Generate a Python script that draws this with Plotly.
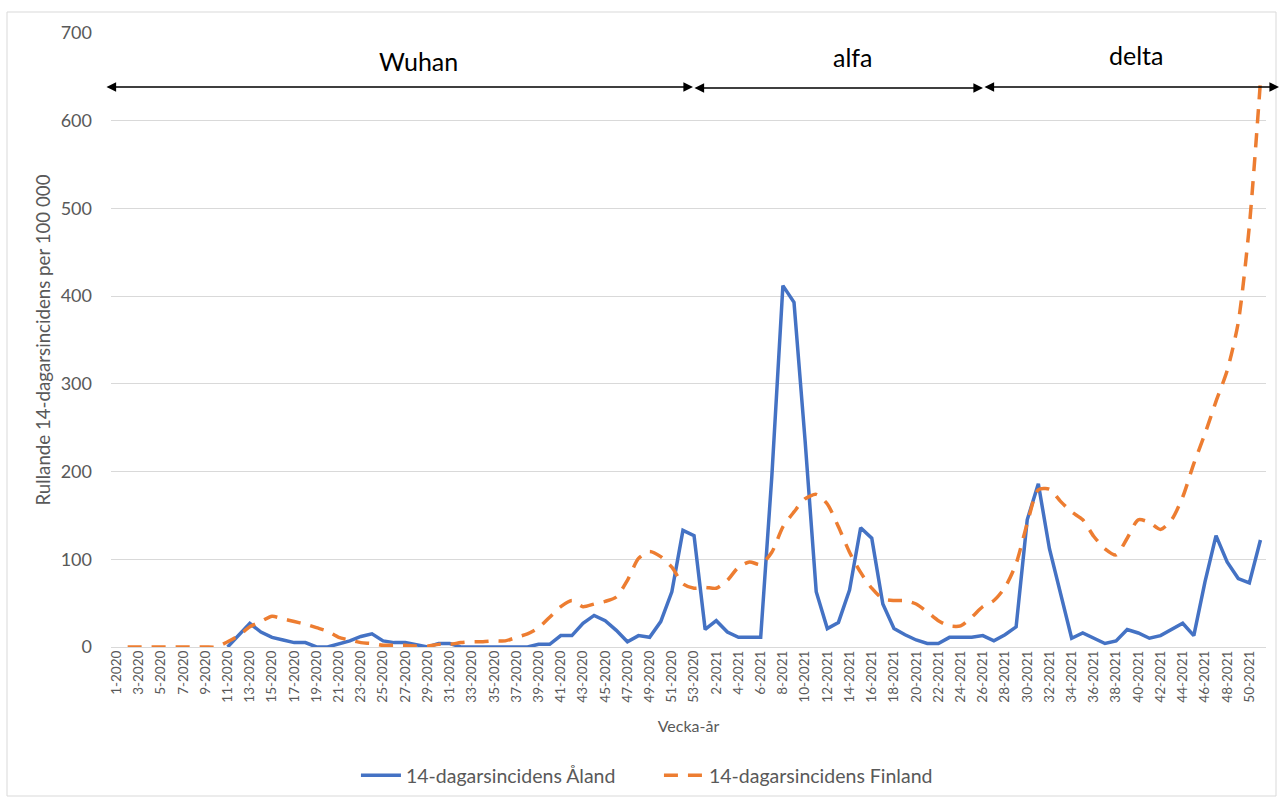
import plotly.graph_objects as go

weeks_2020 = [f"{w}-2020" for w in range(1, 54)]
weeks_2021 = [f"{w}-2021" for w in range(1, 52)]
categories = weeks_2020 + weeks_2021

aland_2020 = [None, None, None, None, None, None, None, None, None, None,
              0, 14, 27, 17, 11, 8, 5, 5, 0, 0,
              3, 7, 12, 15, 7, 5, 5, 2, 0, 4,
              4, 0, 0, 0, 0, 0, 0, 0, 3, 3,
              13, 13, 27, 36, 30, 19, 6, 13, 11, 29,
              63, 133, 127]
aland_2021 = [20, 30, 17, 11, 11, 11, 194, 412, 393, 235,
              63, 21, 28, 65, 136, 124, 49, 21, 14, 8,
              4, 4, 11, 11, 11, 13, 7, 14, 23, 145,
              186, 112, 59, 10, 16, 10, 4, 7, 20, 16,
              10, 13, 20, 27, 13, 74, 127, 97, 78, 73,
              122]

finland_2020 = [None, 0, 0, 0, 0, 0, 0, 0, 0, 0,
                6, 13, 23, 29, 35, 32, 29, 26, 22, 18,
                11, 8, 5, 4, 2, 2, 2, 1, 1, 3,
                3, 5, 6, 6, 7, 7, 11, 15, 22, 34,
                46, 53, 46, 49, 52, 57, 76, 101, 109, 103,
                91, 72, 67]
finland_2021 = [68, 67, 76, 91, 97, 94, 108, 137, 154, 169,
                174, 163, 137, 108, 85, 67, 55, 53, 53, 49,
                40, 30, 24, 24, 34, 46, 53, 68, 95, 141,
                179, 180, 166, 154, 145, 126, 112, 105, 124, 145,
                142, 134, 145, 171, 209, 243, 280, 315, 370, 480,
                645]

aland = aland_2020 + aland_2021
finland = finland_2020 + finland_2021

series_names = ["14-dagarsincidens Åland", "14-dagarsincidens Finland"]
phase_labels = ["Wuhan", "alfa", "delta"]

BLUE = "#4472C4"
ORANGE = "#ED7D31"
GRAY_TXT = "#595959"
GRID = "#D9D9D9"
FONT = "Lato, Carlito, Calibri, sans-serif"

W, H = 1282, 798
L, R, T, B = 111, 16, 33, 151
PW = W - L - R
PH = H - T - B


def px_x(p):
    return (p - L) / PW


def px_y(p):
    return (H - B - p) / PH


fig = go.Figure()
fig.add_trace(go.Scatter(
    x=categories, y=aland, mode="lines", name=series_names[0],
    line=dict(color=BLUE, width=3.5), connectgaps=False,
))
fig.add_trace(go.Scatter(
    x=categories, y=finland, mode="lines", name=series_names[1],
    line=dict(color=ORANGE, width=3.5, dash="14px,10px", shape="spline", smoothing=0.7),
    connectgaps=False,
))

tickvals = categories[::2]

fig.update_layout(
    width=W, height=H,
    margin=dict(l=L, r=R, t=T, b=B),
    paper_bgcolor="white", plot_bgcolor="white",
    font=dict(family=FONT, color=GRAY_TXT),
    showlegend=True,
    legend=dict(
        orientation="h", xref="container", yref="container",
        x=0.514, xanchor="center", y=0.028, yanchor="middle",
        font=dict(size=19.5, color=GRAY_TXT), itemwidth=40,
        entrywidth=248, entrywidthmode="pixels",
        traceorder="normal",
    ),
    xaxis=dict(
        type="category", categoryorder="array", categoryarray=categories,
        tickmode="array", tickvals=tickvals, ticktext=tickvals,
        tickangle=-90, tickfont=dict(size=13.5, color=GRAY_TXT),
        showgrid=False, showline=False, zeroline=False, ticks="",
        range=[-0.5, len(categories) - 0.5],
        title=dict(text="Vecka-år", font=dict(size=16, color=GRAY_TXT), standoff=19),
    ),
    yaxis=dict(
        range=[0, 700], tickvals=[0, 100, 200, 300, 400, 500, 600, 700],
        showgrid=True, gridcolor=GRID, gridwidth=1,
        zeroline=True, zerolinecolor=GRID, zerolinewidth=1,
        showline=False, ticks="", ticklabelstandoff=18,
        tickfont=dict(size=18, color=GRAY_TXT),
        title=dict(text="Rullande 14-dagarsincidens per 100 000",
                   font=dict(size=18.7, color=GRAY_TXT), standoff=5),
    ),
)

# outer chart border
fig.add_shape(type="rect", xref="paper", yref="paper",
              x0=px_x(7), x1=px_x(1276), y0=px_y(796), y1=px_y(12),
              line=dict(color="#D9D9D9", width=1), fillcolor="rgba(0,0,0,0)", layer="below")

# phase arrows
arrows = [(105, 693, 87), (693, 983, 88), (983, 1279, 87)]
for x0, x1, y in arrows:
    fig.add_annotation(
        x=px_x(x1), y=px_y(y), xref="paper", yref="paper",
        ax=-(x1 - x0), ay=0, axref="pixel", ayref="pixel",
        text="", showarrow=True, arrowhead=2, startarrowhead=2,
        arrowside="end+start", arrowsize=1.2, startarrowsize=1.2,
        arrowwidth=1.6, arrowcolor="black", standoff=0, startstandoff=0,
    )

label_pos = [(418, 61), (852, 57), (1136, 55)]
for txt, (lx, ly) in zip(phase_labels, label_pos):
    fig.add_annotation(
        x=px_x(lx), y=px_y(ly), xref="paper", yref="paper",
        text=txt, showarrow=False, xanchor="center", yanchor="middle",
        font=dict(size=25, color="black", family=FONT),
    )

fig.write_html("out.html", config={"displayModeBar": False},
               post_script="document.body.style.margin='0';")
